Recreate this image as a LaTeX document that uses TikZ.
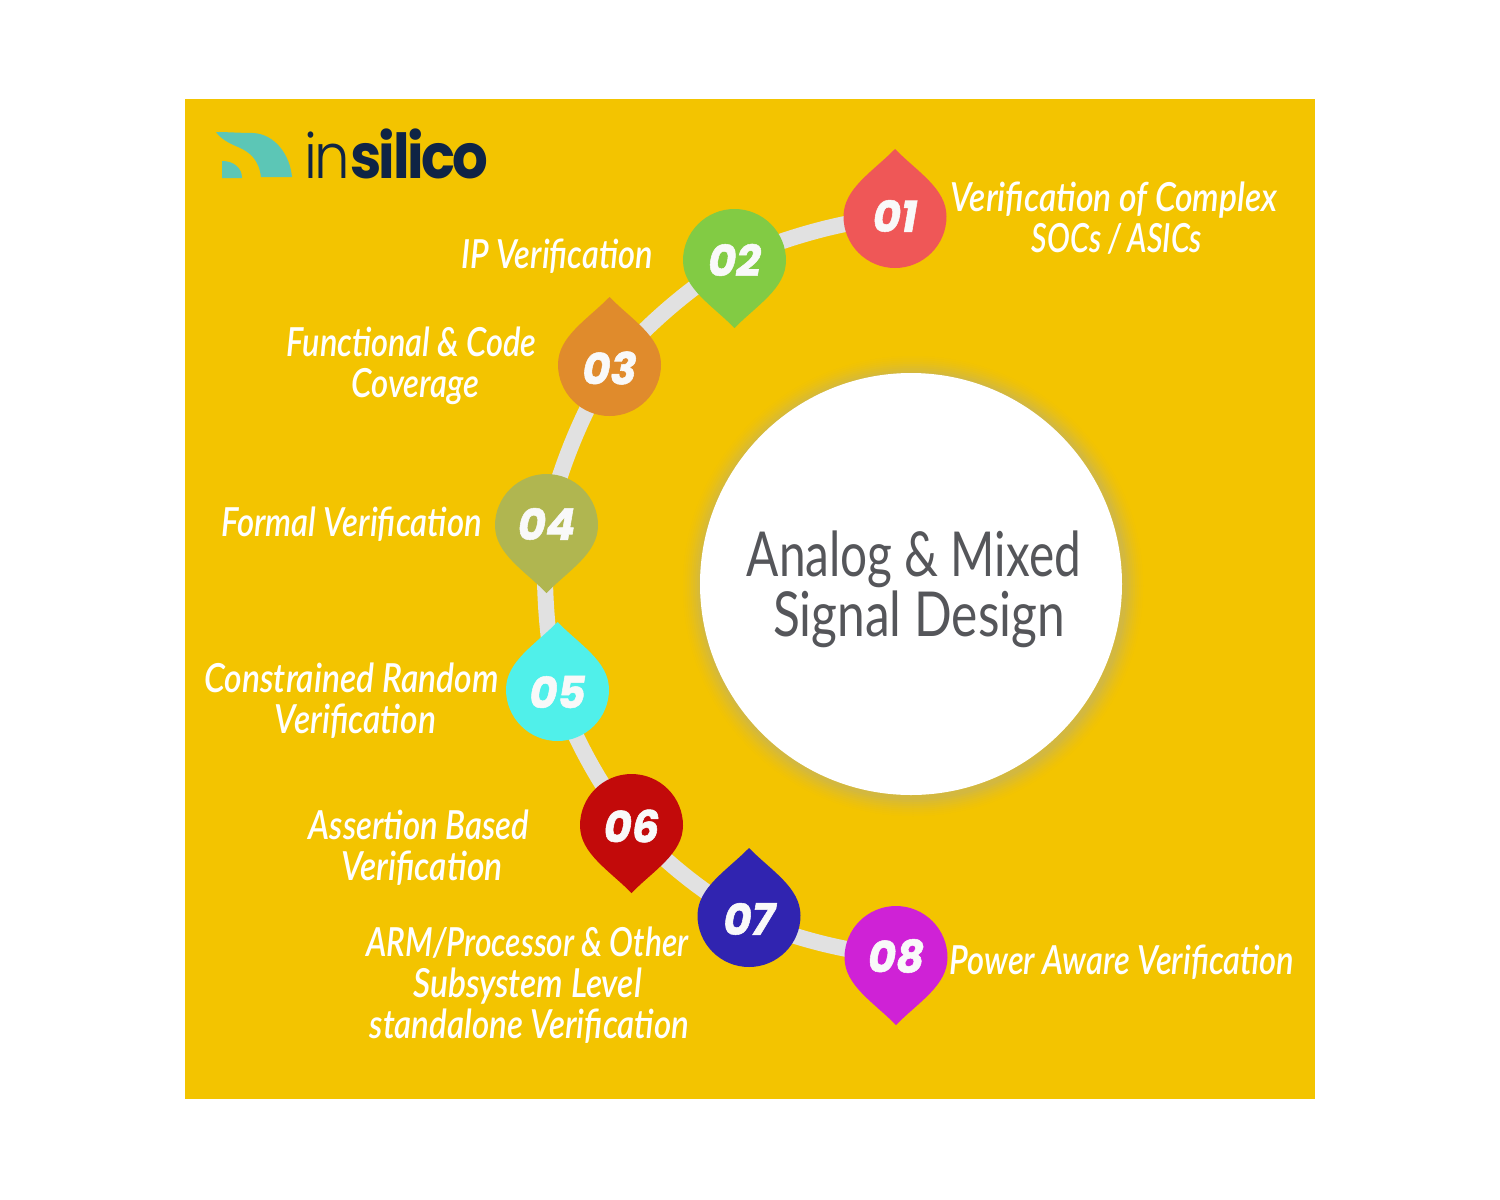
\documentclass[tikz,border=0pt]{standalone}
\usepackage{fontspec}
\setmainfont{Lato}
\newfontfamily\labelfont{Lato Semibold}[FakeStretch=0.84]
\newfontfamily\titlefont{Lato}[FakeStretch=0.77]
\newfontfamily\numfont{Poppins}[FakeStretch=0.98,BoldFeatures={FakeBold=1.2},BoldItalicFeatures={FakeBold=1.2}]
\newfontfamily\logofont{Poppins}[LetterSpace=-4,FakeStretch=0.905]
\newfontfamily\logolight{Poppins Light}[LetterSpace=-4,FakeStretch=0.905]
\definecolor{bgyellow}{HTML}{F3C400}
\definecolor{ringgrey}{HTML}{E1E1E1}
\definecolor{tealmark}{HTML}{5CC6B6}
\definecolor{navymark}{HTML}{0F2445}
\definecolor{titlegrey}{HTML}{55565A}
\definecolor{glowgrey}{HTML}{BDB06A}
\definecolor{dropa}{HTML}{EF5757}
\definecolor{dropb}{HTML}{82CB44}
\definecolor{dropc}{HTML}{E08B2C}
\definecolor{dropd}{HTML}{B0B650}
\definecolor{drope}{HTML}{50F0EA}
\definecolor{dropf}{HTML}{C20A0A}
\definecolor{dropg}{HTML}{3024B0}
\definecolor{droph}{HTML}{CF22D6}
\pgfdeclarelayer{panel}\pgfdeclarelayer{ringlayer}
\pgfsetlayers{panel,ringlayer,main}
\tikzset{
 x=1pt,y=-1pt,
 numlabel/.style={text=white!95!gray,inner sep=0pt,font=\fontsize{44}{44}\selectfont\numfont\bfseries\itshape},
 steplabel/.style={text=white,align=center,inner sep=0pt,font=\fontsize{40}{41}\selectfont\labelfont\itshape},
 ringpart/.style={draw=ringgrey,line width=16pt,looseness=0.85},
}
\newcommand{\teardrop}[7]{% name,x,y,colour,direction(1 up,-1 down),number,number y
 \fill[#4,shift={(#2,#3)},yscale=#5] (0,-67.5) .. controls (22,-45) and (51.5,-28) .. (51.5,0)
   .. controls (51.5,28.4) and (28.4,51.5) .. (0,51.5)
   .. controls (-28.4,51.5) and (-51.5,28.4) .. (-51.5,0)
   .. controls (-51.5,-28) and (-22,-45) .. cycle;
 \node[numlabel] (#1) at (#2,#7) {#6};
}
\newcommand{\narrowline}[2]{\scalebox{#1}[1]{#2}}
\begin{document}
\begin{tikzpicture}
\useasboundingbox (0,0) rectangle (1500,1200);
\begin{pgfonlayer}{panel}
\fill[white] (0,0) rectangle (1500,1200);
\fill[bgyellow] (185,99) rectangle (1315,1099);
\end{pgfonlayer}
% glow behind the hub
\foreach \rr/\mixval in {230/4,228/8,226/13,224/19,222/26,220/33,218/41,216/50,214/60}{
 \fill[glowgrey!\mixval!bgyellow] (913,586) circle[radius=\rr];
}
\node[circle,fill=white,minimum size=422pt,inner sep=0pt] (hub) at (911,584) {};
\node[text=titlegrey,align=center,inner sep=0pt,font=\fontsize{62}{60}\selectfont\titlefont] (title) at (914,589) {Analog \& Mixed\\\hspace{10pt}\narrowline{1.04}{Signal Design}};
% logo
\fill[tealmark] (216,132) .. controls (228,132) and (240,133) .. (253,133)
  .. controls (275,134) and (290,155) .. (292,177) -- (261,177)
  .. controls (259,160) and (250,152) .. (238,147) .. controls (228,143) and (220,138) .. cycle;
\fill[tealmark] (222,161) -- (222,178) -- (242,178) .. controls (242,168) and (234,161) .. cycle;
\node[anchor=base west,inner sep=0pt,text=navymark,font=\fontsize{62}{62}\selectfont] (logo) at (304,178) {{\logolight in}{\logofont\bfseries silico}};
% teardrops
\teardrop{n1}{895}{216.5}{dropa}{1}{01}{216}
\teardrop{n2}{734.5}{260.5}{dropb}{-1}{02}{260}
\teardrop{n3}{609.5}{364.5}{dropc}{1}{03}{368}
\teardrop{n4}{546.5}{525.5}{dropd}{-1}{04}{524}
\teardrop{n5}{557.5}{689.5}{drope}{1}{05}{692}
\teardrop{n6}{631.5}{825.5}{dropf}{-1}{06}{826}
\teardrop{n7}{749}{915.5}{dropg}{1}{07}{919}
\teardrop{n8}{896}{957.5}{droph}{-1}{08}{956}
% ring
\begin{pgfonlayer}{ringlayer}
\draw[ringpart] (n1.center) to[bend right=9] (n2.center);
\draw[ringpart] (n2.center) to[bend right=9] (n3.center);
\draw[ringpart] (n3.center) to[bend right=9] (n4.center);
\draw[ringpart] (n4.center) to[bend right=8] (n5.center);
\draw[ringpart] (n5.center) to[bend right=9] (n6.center);
\draw[ringpart] (n6.center) to[bend right=9] (n7.center);
\draw[ringpart] (n7.center) to[bend right=9] (n8.center);
\end{pgfonlayer}
% labels
\node[steplabel] (t1) at (1114,218) {Verification of Complex\\\hspace{6pt}\narrowline{0.905}{SOCs / ASICs}};
\node[steplabel] (t2) at (557,256) {\narrowline{0.97}{IP Verification}};
\node[steplabel] (t3) at (411.5,366) {\narrowline{0.97}{Functional \& Code}\\\hspace{8pt}\narrowline{0.98}{Coverage}};
\node[steplabel] (t4) at (351.5,524) {\narrowline{0.98}{Formal Verification}};
\node[steplabel] (t5) at (351.5,701) {Constrained Random\\\hspace{8pt}Verification};
\node[steplabel] (t6) at (419,848) {\narrowline{0.98}{Assertion Based}\\\hspace{6pt}Verification};
\node[steplabel] (t7) at (527.5,985) {\narrowline{0.945}{ARM/Processor \& Other}\\Subsystem Level\\\hspace{4pt}\narrowline{0.985}{standalone Verification}};
\node[steplabel] (t8) at (1122,962) {\narrowline{0.975}{Power Aware Verification}};
\end{tikzpicture}
\end{document}
